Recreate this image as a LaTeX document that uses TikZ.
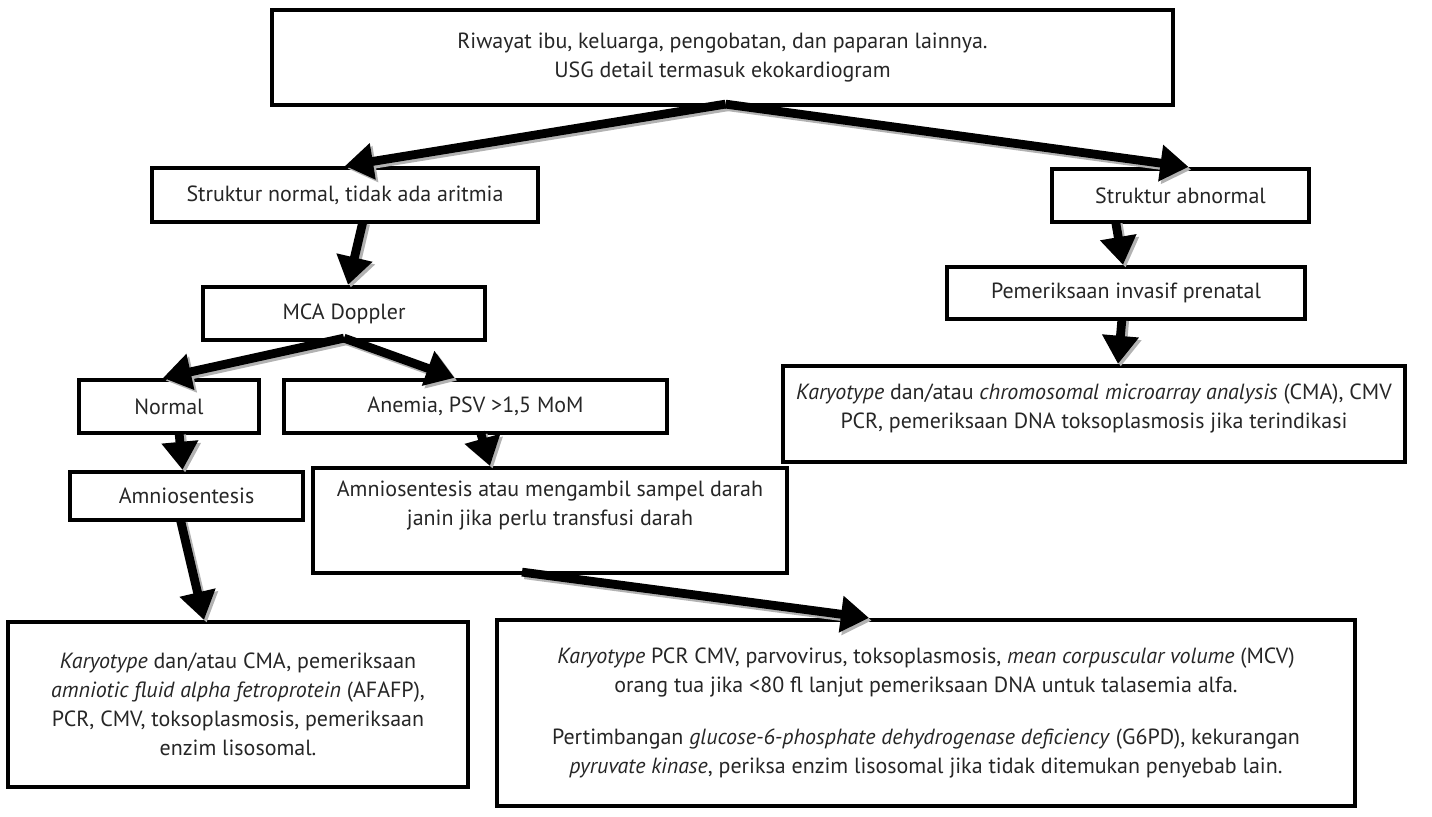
\documentclass[tikz,border=0pt]{standalone}
\usepackage{fontspec}
\setmainfont{PT Sans}
\usetikzlibrary{calc,arrows.meta}
\tikzset{
  kotak/.style={draw=black, line width=2.4pt, inner sep=2pt, align=center, text=black!85},
  panah/.style={line width=5pt, -{Triangle[length=16pt,width=20pt]},
    preaction={draw=black!30, line width=5pt, -{Triangle[length=16pt,width=20pt]},
      transform canvas={shift={(1.5pt,-1.5pt)}}}}
}

\begin{document}
\begin{tikzpicture}[x=0.02cm, y=-0.02cm, font=\fontsize{12.5}{16.5}\selectfont]
\useasboundingbox (0,0) rectangle (1432,816);

% kotak-kotak
\node[kotak, minimum width=18.02cm, minimum height=1.9cm] (riwayat) at (722.5,57.5)
  {Riwayat ibu, keluarga, pengobatan, dan paparan lainnya.\\USG detail termasuk ekokardiogram};
\node[kotak, minimum width=7.72cm, minimum height=1.08cm] (normalstr) at (345,195) {Struktur normal, tidak ada aritmia};
\node[kotak, minimum width=5.14cm, minimum height=1.06cm] (abnormal) at (1180.5,195.5) {Struktur abnormal};
\node[kotak, minimum width=7.16cm, minimum height=1.04cm] (invasif) at (1126,293) {Pemeriksaan invasif prenatal};
\node[kotak, minimum width=12.44cm, minimum height=1.92cm,
  label={[align=center, anchor=north, yshift=-8pt, text=black!85]north:{\textit{Karyotype} dan/atau \textit{chromosomal microarray analysis} (CMA), CMV\\PCR, pemeriksaan DNA toksoplasmosis jika terindikasi}}]
  (karyokanan) at (1094,414) {};
\node[kotak, minimum width=5.64cm, minimum height=1.06cm] (mca) at (344,313.5) {MCA Doppler};
\node[kotak, minimum width=3.6cm, minimum height=1.06cm] (normal) at (169,406.5) {Normal};
\node[kotak, minimum width=7.66cm, minimum height=1.06cm] (anemia) at (475.5,406.5) {Anemia, PSV >1,5 MoM};
\node[kotak, minimum width=4.66cm, minimum height=0.96cm] (amnio) at (186.5,496) {Amniosentesis};
\node[kotak, minimum width=9.48cm, minimum height=2.1cm,
  label={[align=center, anchor=north, yshift=-5pt, text=black!85]north:{Amniosentesis atau mengambil sampel darah\\janin jika perlu transfusi darah}}]
  (sampel) at (550,520.5) {};
\node[kotak, minimum width=9.2cm, minimum height=3.3cm] (karyokiri) at (238,704.5)
  {\textit{Karyotype} dan/atau CMA, pemeriksaan\\\textit{amniotic fluid alpha fetroprotein} (AFAFP),\\PCR, CMV, toksoplasmosis, pemeriksaan\\enzim lisosomal.};
\node[kotak, minimum width=17.16cm, minimum height=3.72cm] (karyobawah) at (926,713)
  {\textit{Karyotype} PCR CMV, parvovirus, toksoplasmosis, \textit{mean corpuscular volume} (MCV)\\
   orang tua jika <80 fl lanjut pemeriksaan DNA untuk talasemia alfa.\\[13pt]
   Pertimbangan \textit{glucose-6-phosphate dehydrogenase deficiency} (G6PD), kekurangan\\
   \textit{pyruvate kinase}, periksa enzim lisosomal jika tidak ditemukan penyebab lain.};

% panah
\coordinate (pisah) at ($(riwayat.south)+(3,-3)$);
\coordinate (mcapisah) at ($(mca.south)+(0,-4)$);
\draw[panah] (pisah) -- (normalstr.north);
\draw[panah] (pisah) -- ($(abnormal.north)+(8,0)$);
\draw[panah] ($(normalstr.south)+(18,-3)$) -- ($(mca.north)+(4,0)$);
\draw[panah] (mcapisah) -- ($(normal.north)+(-6,0)$);
\draw[panah] (mcapisah) -- ($(anemia.north)+(-21,0)$);
\draw[panah] ($(abnormal.south)+(-65,-3)$) -- ($(invasif.north)+(-3,0)$);
\draw[panah] ($(invasif.south)+(-4,-3)$) -- ($(karyokanan.north)+(24,0)$);
\draw[panah] ($(normal.south)+(10,-3)$) -- ($(amnio.north)+(-4,0)$);
\draw[panah] ($(anemia.south)+(5,-3)$) -- ($(sampel.north)+(-60,0)$);
\draw[panah] ($(amnio.south)+(-6,-2)$) -- ($(karyokiri.north)+(-34,0)$);
\draw[panah] ($(sampel.south)+(-28,-3)$) -- ($(karyobawah.north)+(-57,0)$);
\end{tikzpicture}
\end{document}
